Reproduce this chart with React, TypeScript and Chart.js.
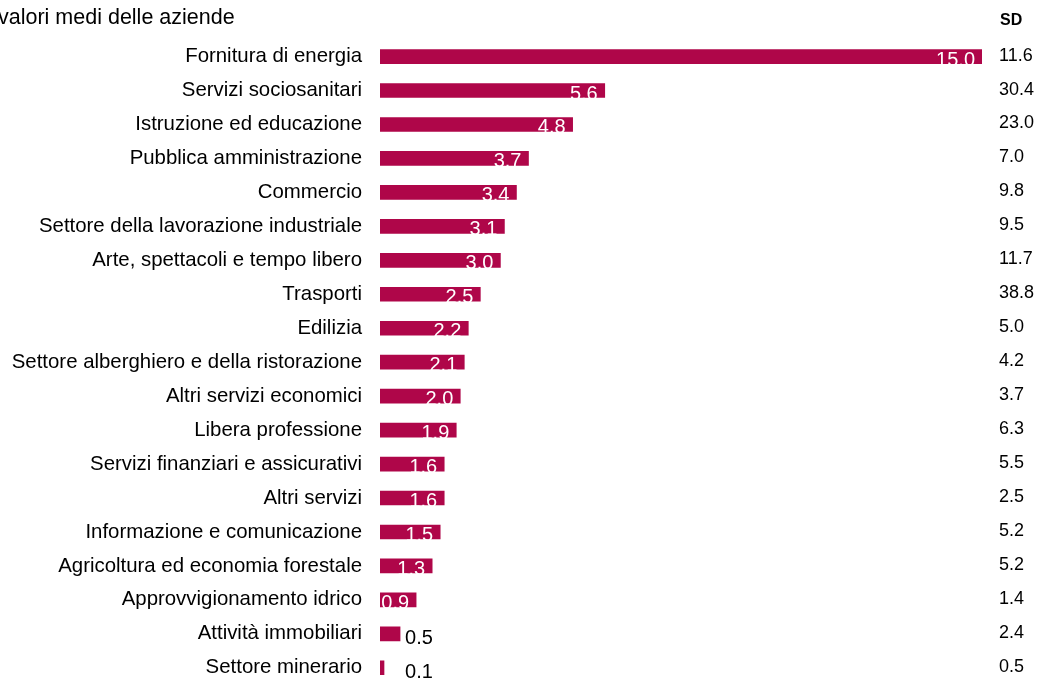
import React, { useEffect, useRef } from "react";
import { Chart, registerables } from "chart.js";

Chart.register(...registerables);

const categories: string[] = [
  "Fornitura di energia",
  "Servizi sociosanitari",
  "Istruzione ed educazione",
  "Pubblica amministrazione",
  "Commercio",
  "Settore della lavorazione industriale",
  "Arte, spettacoli e tempo libero",
  "Trasporti",
  "Edilizia",
  "Settore alberghiero e della ristorazione",
  "Altri servizi economici",
  "Libera professione",
  "Servizi finanziari e assicurativi",
  "Altri servizi",
  "Informazione e comunicazione",
  "Agricoltura ed economia forestale",
  "Approvvigionamento idrico",
  "Attività immobiliari",
  "Settore minerario",
];

const meanValues: number[] = [
  15.0, 5.6, 4.8, 3.7, 3.4, 3.1, 3.0, 2.5, 2.2, 2.1, 2.0, 1.9, 1.6, 1.6, 1.5, 1.3, 0.9, 0.5, 0.1,
];

const sdValues: number[] = [
  11.6, 30.4, 23.0, 7.0, 9.8, 9.5, 11.7, 38.8, 5.0, 4.2, 3.7, 6.3, 5.5, 2.5, 5.2, 5.2, 1.4, 2.4, 0.5,
];

const titleText = "valori medi delle aziende";
const sdHeader = "SD";

const FONT = '"Liberation Sans", Arial, Helvetica, sans-serif';
const BAR_COLOR = "#AF0649";

const overlayPlugin = {
  id: "overlay",
  afterDatasetsDraw(chart: any) {
    const ctx = chart.ctx;
    const meta = chart.getDatasetMeta(0);
    const yScale = chart.scales.y;
    ctx.save();
    // value labels
    ctx.font = `20px ${FONT}`;
    ctx.textBaseline = "alphabetic";
    meta.data.forEach((bar: any, i: number) => {
      const txt = meanValues[i].toFixed(1);
      const w = ctx.measureText(txt).width;
      const barW = bar.x - bar.base;
      if (w + 6 < barW) {
        ctx.fillStyle = "#ffffff";
        ctx.textAlign = "right";
        ctx.fillText(txt, bar.x - 7, bar.y + 9);
      } else {
        ctx.fillStyle = "#000000";
        ctx.textAlign = "left";
        const minX = chart.scales.x.getPixelForValue(0.5);
        ctx.fillText(txt, Math.max(bar.x, minX) + 5, bar.y + 10);
      }
    });
    // SD column
    ctx.fillStyle = "#000000";
    ctx.textAlign = "left";
    ctx.font = `18px ${FONT}`;
    ctx.textBaseline = "middle";
    sdValues.forEach((v, i) => {
      const y = yScale.getPixelForValue(i);
      ctx.fillText(v.toFixed(1), 999, y - 1);
    });
    ctx.font = `bold 16px ${FONT}`;
    ctx.textBaseline = "alphabetic";
    ctx.fillText(sdHeader, 1000, 25);
    // title
    ctx.font = `21.5px ${FONT}`;
    ctx.fillText(titleText, -2, 24);
    ctx.restore();
  },
};

export default function App() {
  const canvasRef = useRef<HTMLCanvasElement | null>(null);

  useEffect(() => {
    const canvas = canvasRef.current;
    if (!canvas) return;
    const chart = new Chart(canvas, {
      type: "bar",
      data: {
        labels: categories,
        datasets: [
          {
            data: meanValues,
            backgroundColor: BAR_COLOR,
            borderWidth: 0,
            barThickness: 14,
          },
        ],
      },
      options: {
        indexAxis: "y",
        animation: false,
        responsive: false,
        maintainAspectRatio: false,
        layout: {
          padding: { left: 0, right: 57, top: 39.6, bottom: 15.4 },
        },
        plugins: {
          legend: { display: false },
          tooltip: { enabled: false },
          title: { display: false },
        },
        scales: {
          x: {
            display: false,
            min: 0,
            max: 15,
          },
          y: {
            offset: true,
            grid: { display: false, drawTicks: false },
            border: { display: false },
            ticks: {
              color: "#000000",
              font: { family: FONT, size: 20.4 },
              padding: 18,
            },
            afterFit(scale: any) {
              scale.width = 380;
            },
          },
        },
      },
      plugins: [overlayPlugin],
    } as any);
    return () => chart.destroy();
  }, []);

  return (
    <div
      style={{
        position: "fixed",
        left: 0,
        top: 0,
        width: 1039,
        height: 678,
        overflow: "hidden",
        background: "#ffffff",
      }}
    >
      <canvas ref={canvasRef} width={1039} height={715} style={{ display: "block" }} />
    </div>
  );
}
